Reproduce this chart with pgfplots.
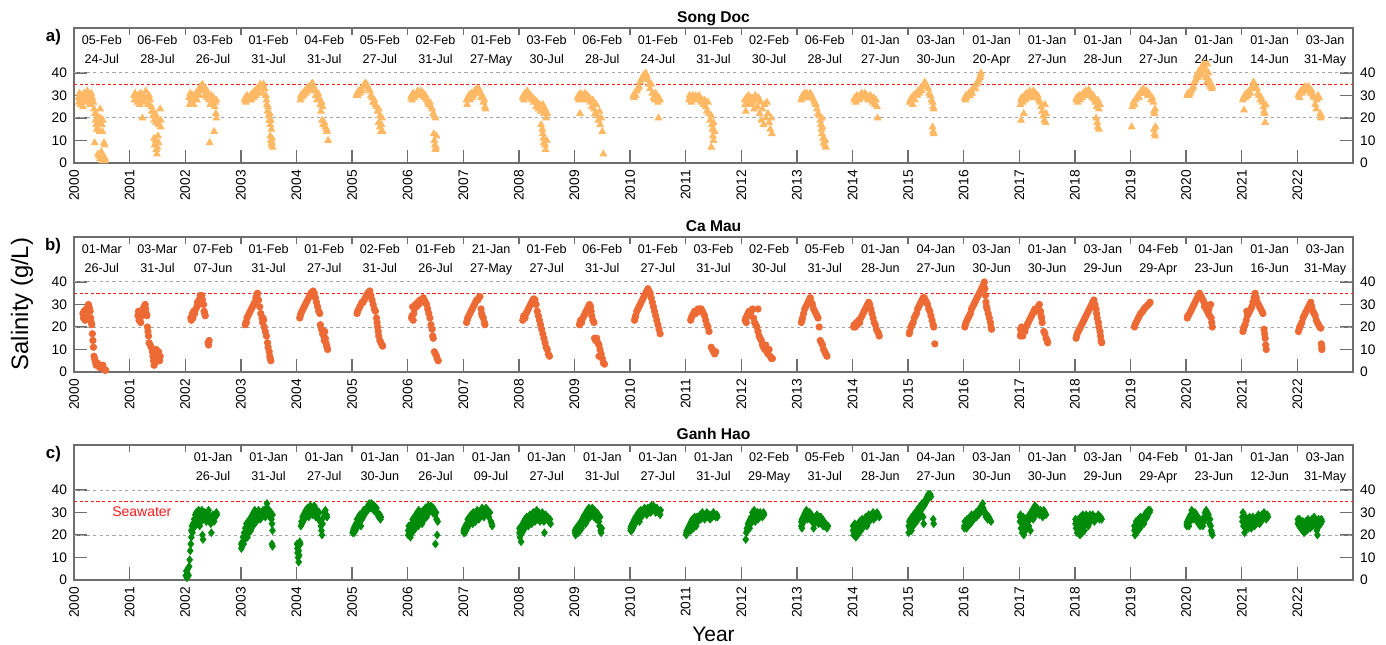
\documentclass[border=0pt]{standalone}
\usepackage{pgfplots}
\pgfplotsset{compat=1.18}
\usepackage{fontspec}
\setmainfont{Liberation Sans}

\definecolor{sdcol}{HTML}{FFB964}
\definecolor{cmcol}{HTML}{EE6A35}
\definecolor{ghcol}{HTML}{008C0A}
\definecolor{framecol}{HTML}{6E6E6E}
% reference-line colours, one set per panel
\definecolor{seaA}{HTML}{FF1A1A}\definecolor{seaB}{HTML}{FF1A1B}\definecolor{seaC}{HTML}{FF1B1A}
\definecolor{seaT}{HTML}{FF1B1B}
\definecolor{gAa}{HTML}{A6A6A6}\definecolor{gAb}{HTML}{A6A6A7}
\definecolor{gBa}{HTML}{A6A7A6}\definecolor{gBb}{HTML}{A7A6A6}
\definecolor{gCa}{HTML}{A6A7A7}\definecolor{gCb}{HTML}{A7A7A6}

\newcommand\tickfont{\fontsize{6.9}{8}\selectfont}
\newcommand\datefont{\fontsize{6.3}{8}\selectfont}

% two-line date label (first / last sampling day) per year, on fixed baselines
\newcommand\dl[3]{\node[datelbl] at (axis cs:#1.5,52.7) {#2};\node[datelbl] at (axis cs:#1.5,44.1) {#3};}

\pgfplotsset{
  panel/.style={
    scale only axis, width=639.5pt, height=67.5pt,
    xmin=2000, xmax=2023, ymin=0, ymax=60,
    xtick={2000,2001,...,2022}, ytick={0,10,20,30,40},
    xtick pos=lower, ytick pos=both, tick align=inside,
    major tick length=6.5pt,
    tick style={draw=framecol, line width=0.7pt},
    axis line style={draw=framecol, line width=0.7pt},
    xticklabel style={rotate=90, anchor=east, font=\tickfont},
    yticklabel style={font=\tickfont},
    /pgf/number format/1000 sep={},
    /pgf/number format/assume math mode=true,
    clip=false,
  },
}
\tikzset{
  datelbl/.style={font=\datefont, anchor=base, inner sep=0pt},
  toptick/.style={draw=framecol, line width=0.7pt},
  ttl/.style={font=\fontsize{7.8}{9}\selectfont\bfseries, anchor=base},
  plab/.style={font=\fontsize{8.4}{10}\selectfont\bfseries, anchor=base east},
}

% shared decorations: reference lines (20, 40 and seawater 35 g/L), top year ticks, right-hand tick labels
\newcommand\decor[1]{%
  \addplot[forget plot, color=g#1a, line width=0.5pt, dash pattern=on 1.6pt off 1.6pt] coordinates {(2000,20) (2023,20)};
  \addplot[forget plot, color=g#1b, line width=0.5pt, dash pattern=on 1.6pt off 1.6pt] coordinates {(2000,40) (2023,40)};
  \addplot[forget plot, color=sea#1, line width=0.6pt, dash pattern=on 1.6pt off 1.2pt] coordinates {(2000,35) (2023,35)};
  \pgfplotsinvokeforeach{2001,2002,2003,2004,2005,2006,2007,2008,2009,2010,2011,2012,2013,2014,2015,2016,2017,2018,2019,2020,2021,2022}{\draw[toptick] (axis cs:##1,60) -- ([yshift=-3.5pt]axis cs:##1,60);}
  \pgfplotsinvokeforeach{0,10,20,30,40}{\node[anchor=west, font=\tickfont] at (axis cs:2023,##1) {##1};}
}

\begin{document}
\begin{tikzpicture}
\useasboundingbox (0pt,0pt) rectangle (693pt,322pt);

% ---------------- a) Song Doc ----------------
\begin{axis}[panel, at={(37pt,240.5pt)}, anchor=south west]
\decor{A}
\addplot[only marks, mark=triangle*, mark size=1.9pt, color=sdcol] coordinates {
(2000.08,29)(2000.09,27)(2000.10,31)(2000.11,28)(2000.12,26)(2000.13,30)(2000.15,28)(2000.16,25)(2000.18,31)(2000.20,29)(2000.22,27)(2000.24,32)(2000.26,30)(2000.27,28)(2000.29,26)(2000.31,31)(2000.33,29)(2000.35,27)(2000.36,24)(2000.38,22)(2000.39,19)(2000.40,17)(2000.42,21)(2000.43,15)(2000.44,18)(2000.46,14)(2000.37,9)(2000.47,24)(2000.48,20)(2000.50,17)(2000.51,14)(2000.52,19)(2000.54,9)(2000.55,8)(2000.43,4)(2000.45,3)(2000.47,2)(2000.49,5)(2000.51,1)(2000.53,3)(2000.55,1)(2000.56,2)(2000.41,15)
(2001.08,30)(2001.09,28)(2001.10,31)(2001.12,29)(2001.14,27)(2001.16,30)(2001.18,26)(2001.20,31)(2001.22,28)(2001.23,20)(2001.25,30)(2001.27,27)(2001.29,32)(2001.31,29)(2001.33,26)(2001.35,30)(2001.37,28)(2001.39,25)(2001.40,23)(2001.42,21)(2001.44,19)(2001.46,22)(2001.48,18)(2001.50,20)(2001.52,17)(2001.55,24)(2001.56,19)(2001.56,16)(2001.44,11)(2001.45,8)(2001.47,10)(2001.48,6)(2001.49,4)(2001.51,12)(2001.52,9)(2001.50,7)
(2002.07,29)(2002.08,26)(2002.09,31)(2002.11,28)(2002.13,30)(2002.15,26)(2002.17,29)(2002.19,31)(2002.21,28)(2002.23,32)(2002.25,30)(2002.27,34)(2002.29,33)(2002.31,35)(2002.33,32)(2002.35,30)(2002.37,33)(2002.39,29)(2002.41,31)(2002.43,28)(2002.45,26)(2002.47,30)(2002.49,27)(2002.51,29)(2002.53,25)(2002.55,22)(2002.56,28)(2002.56,20)(2002.52,14)(2002.44,9)(2002.54,27)
(2003.07,28)(2003.08,29)(2003.09,27)(2003.11,30)(2003.13,28)(2003.15,29)(2003.17,30)(2003.19,28)(2003.21,31)(2003.23,29)(2003.25,32)(2003.27,30)(2003.29,33)(2003.31,31)(2003.33,34)(2003.35,35)(2003.37,33)(2003.39,31)(2003.41,35)(2003.43,33)(2003.45,30)(2003.46,28)(2003.47,26)(2003.48,23)(2003.49,25)(2003.50,21)(2003.51,19)(2003.52,22)(2003.53,17)(2003.54,19)(2003.55,15)(2003.53,12)(2003.54,10)(2003.55,8)(2003.56,9)(2003.57,7)(2003.56,11)
(2004.07,28)(2004.08,30)(2004.09,29)(2004.11,31)(2004.13,30)(2004.15,32)(2004.17,31)(2004.19,33)(2004.21,32)(2004.23,34)(2004.25,33)(2004.27,35)(2004.29,35.5)(2004.31,34)(2004.33,32)(2004.35,30)(2004.37,28)(2004.39,31)(2004.41,29)(2004.43,26)(2004.44,23)(2004.45,27)(2004.47,25)(2004.46,19)(2004.48,17)(2004.50,18)(2004.52,16)(2004.54,15)(2004.55,14)(2004.57,10)
(2005.08,30)(2005.09,31)(2005.10,30)(2005.12,32)(2005.14,31)(2005.16,33)(2005.18,32)(2005.20,34)(2005.22,35)(2005.24,35.5)(2005.26,35)(2005.28,34)(2005.30,33)(2005.32,32)(2005.34,30)(2005.36,29)(2005.38,27)(2005.40,28)(2005.42,26)(2005.44,25)(2005.46,23)(2005.48,24)(2005.50,21)(2005.48,18)(2005.50,16)(2005.52,14)(2005.53,17)(2005.54,20)(2005.55,14)
(2006.06,29)(2006.07,30)(2006.08,28)(2006.10,31)(2006.12,29)(2006.14,30)(2006.16,31)(2006.18,32)(2006.20,30)(2006.22,31)(2006.24,32)(2006.26,30)(2006.28,31)(2006.30,29)(2006.32,30)(2006.34,28)(2006.36,27)(2006.38,26)(2006.40,27)(2006.42,25)(2006.44,24)(2006.46,22)(2006.48,21)(2006.50,20)(2006.47,13)(2006.48,10)(2006.49,8)(2006.50,6)(2006.51,7)(2006.52,12)
(2007.06,28)(2007.07,26)(2007.08,29)(2007.10,30)(2007.12,28)(2007.14,31)(2007.16,29)(2007.18,30)(2007.20,32)(2007.22,31)(2007.24,33)(2007.26,32)(2007.28,33)(2007.30,31)(2007.32,29)(2007.34,30)(2007.36,27)(2007.38,28)(2007.39,25)(2007.40,24)
(2008.07,29)(2008.08,30)(2008.09,28)(2008.11,31)(2008.13,30)(2008.15,32)(2008.17,31)(2008.19,29)(2008.21,30)(2008.23,28)(2008.25,29)(2008.27,27)(2008.29,28)(2008.31,25)(2008.33,27)(2008.35,24)(2008.37,26)(2008.39,23)(2008.41,25)(2008.43,26)(2008.45,22)(2008.47,24)(2008.49,20)(2008.51,22)(2008.40,17)(2008.42,15)(2008.43,13)(2008.44,11)(2008.45,9)(2008.47,8)(2008.48,6)(2008.50,10)
(2009.06,29)(2009.07,30)(2009.08,28)(2009.10,22)(2009.11,31)(2009.13,29)(2009.15,30)(2009.17,28)(2009.19,31)(2009.21,29)(2009.23,30)(2009.25,28)(2009.27,29)(2009.29,27)(2009.31,25)(2009.33,28)(2009.35,24)(2009.37,22)(2009.39,26)(2009.41,21)(2009.43,19)(2009.45,23)(2009.46,17)(2009.48,20)(2009.50,14)(2009.52,4)
(2010.06,30)(2010.07,29)(2010.08,31)(2010.10,30)(2010.12,32)(2010.14,33)(2010.16,34)(2010.18,36)(2010.20,37)(2010.22,38)(2010.24,39)(2010.26,38)(2010.28,40)(2010.30,39)(2010.32,37)(2010.34,35)(2010.36,33)(2010.38,35)(2010.40,31)(2010.42,29)(2010.44,28)(2010.46,31)(2010.48,29)(2010.50,27)(2010.52,29)(2010.54,28)(2010.51,20)
(2011.06,28)(2011.07,30)(2011.08,29)(2011.10,27)(2011.12,30)(2011.14,29)(2011.16,28)(2011.18,30)(2011.20,29)(2011.22,28)(2011.24,30)(2011.26,29)(2011.28,27)(2011.30,28)(2011.32,26)(2011.34,28)(2011.36,25)(2011.38,23)(2011.40,27)(2011.42,22)(2011.44,19)(2011.46,21)(2011.47,17)(2011.48,15)(2011.50,18)(2011.52,14)(2011.50,10)(2011.46,7)(2011.49,12)
(2012.06,28)(2012.07,26)(2012.08,23)(2012.09,29)(2012.11,27)(2012.13,30)(2012.15,28)(2012.17,26)(2012.19,29)(2012.21,27)(2012.23,24)(2012.25,30)(2012.27,28)(2012.29,25)(2012.31,29)(2012.33,22)(2012.35,27)(2012.36,19)(2012.38,24)(2012.40,17)(2012.42,26)(2012.44,20)(2012.46,27)(2012.48,22)(2012.50,18)(2012.52,15)(2012.54,20)(2012.55,13)
(2013.08,28)(2013.09,29)(2013.10,30)(2013.12,29)(2013.14,31)(2013.16,30)(2013.18,31)(2013.20,30)(2013.22,29)(2013.24,31)(2013.26,30)(2013.28,29)(2013.30,28)(2013.32,27)(2013.34,26)(2013.36,24)(2013.38,22)(2013.40,21)(2013.42,19)(2013.43,17)(2013.44,15)(2013.45,13)(2013.46,16)(2013.47,11)(2013.48,9)(2013.50,8)(2013.51,10)(2013.52,7)(2013.45,20)
(2014.03,28)(2014.04,29)(2014.06,27)(2014.08,30)(2014.10,29)(2014.12,28)(2014.14,30)(2014.16,31)(2014.18,29)(2014.20,30)(2014.22,31)(2014.24,29)(2014.26,30)(2014.28,28)(2014.30,29)(2014.32,30)(2014.34,28)(2014.36,27)(2014.38,29)(2014.40,26)(2014.42,28)(2014.44,25)(2014.45,20)
(2015.03,27)(2015.04,28)(2015.06,29)(2015.08,26)(2015.10,30)(2015.12,28)(2015.14,31)(2015.16,30)(2015.18,32)(2015.20,31)(2015.22,33)(2015.24,32)(2015.26,34)(2015.28,35)(2015.30,36)(2015.32,35)(2015.34,34)(2015.36,33)(2015.38,31)(2015.40,30)(2015.42,28)(2015.44,27)(2015.45,25)(2015.46,24)(2015.44,16)(2015.45,14)(2015.46,13)
(2016.02,29)(2016.03,28)(2016.04,30)(2016.05,29)(2016.07,30)(2016.09,31)(2016.11,30)(2016.13,32)(2016.15,31)(2016.17,33)(2016.19,34)(2016.21,33)(2016.23,35)(2016.25,36)(2016.27,37)(2016.29,38)(2016.30,39)(2016.31,40)
(2017.02,26)(2017.03,28)(2017.03,19)(2017.04,29)(2017.06,27)(2017.08,22)(2017.09,30)(2017.11,28)(2017.13,31)(2017.15,29)(2017.17,30)(2017.19,32)(2017.21,31)(2017.23,29)(2017.25,32)(2017.27,30)(2017.29,31)(2017.31,29)(2017.33,30)(2017.35,28)(2017.37,27)(2017.39,25)(2017.41,23)(2017.43,21)(2017.45,19)(2017.47,18)(2017.48,22)(2017.46,26)
(2018.02,28)(2018.03,29)(2018.05,27)(2018.07,30)(2018.09,28)(2018.11,30)(2018.13,29)(2018.15,31)(2018.17,30)(2018.19,32)(2018.21,31)(2018.23,32)(2018.25,32.5)(2018.27,31)(2018.29,30)(2018.31,29)(2018.33,30)(2018.35,28)(2018.37,27)(2018.39,25)(2018.41,28)(2018.43,24)(2018.38,20)(2018.40,18)(2018.41,16)(2018.43,15)(2018.45,26)
(2019.02,16)(2019.03,25)(2019.05,27)(2019.07,26)(2019.09,28)(2019.11,29)(2019.13,30)(2019.15,29)(2019.17,31)(2019.19,32)(2019.21,31)(2019.23,33)(2019.25,32)(2019.27,31)(2019.29,32)(2019.31,30)(2019.33,31)(2019.35,30)(2019.37,28)(2019.39,29)(2019.41,27)(2019.42,23)(2019.43,22)(2019.44,24)(2019.42,15)(2019.43,13)(2019.44,12)(2019.45,16)
(2020.02,30)(2020.03,31)(2020.05,30)(2020.07,31)(2020.09,32)(2020.11,33)(2020.13,34)(2020.15,36)(2020.17,37)(2020.19,39)(2020.21,38)(2020.23,41)(2020.25,40)(2020.27,42)(2020.29,39)(2020.31,44)(2020.33,43)(2020.35,41)(2020.36,38)(2020.37,36)(2020.38,44)(2020.40,40)(2020.41,37)(2020.42,35)(2020.44,34)(2020.46,33)(2020.47,34)
(2021.02,28)(2021.03,29)(2021.04,23.5)(2021.05,30)(2021.07,29)(2021.09,31)(2021.11,30)(2021.13,32)(2021.15,31)(2021.17,33)(2021.19,34)(2021.21,36)(2021.23,35)(2021.25,34)(2021.27,33)(2021.29,31)(2021.31,30)(2021.33,28)(2021.35,29)(2021.37,27)(2021.39,25)(2021.40,23)(2021.41,22)(2021.42,18)(2021.43,26)
(2022.02,30)(2022.03,31)(2022.04,29)(2022.06,32)(2022.08,31)(2022.10,33)(2022.12,32)(2022.14,34)(2022.16,33)(2022.18,32)(2022.20,34)(2022.22,33)(2022.24,31)(2022.26,32)(2022.28,30)(2022.30,29)(2022.32,26)(2022.34,24)(2022.35,28)(2022.37,30)(2022.39,29)(2022.41,22)(2022.42,20)(2022.43,21)
};
\node[ttl, yshift=2.8pt] at (rel axis cs:0.5,1) {Song Doc};
\node[plab, xshift=-3pt, yshift=-7pt] at (rel axis cs:0,1) {a)};
\dl{2000}{05-Feb}{24-Jul}\dl{2001}{06-Feb}{28-Jul}\dl{2002}{03-Feb}{26-Jul}
\dl{2003}{01-Feb}{31-Jul}\dl{2004}{04-Feb}{31-Jul}\dl{2005}{05-Feb}{27-Jul}
\dl{2006}{02-Feb}{31-Jul}\dl{2007}{01-Feb}{27-May}\dl{2008}{03-Feb}{30-Jul}
\dl{2009}{06-Feb}{28-Jul}\dl{2010}{01-Feb}{24-Jul}\dl{2011}{01-Feb}{31-Jul}
\dl{2012}{02-Feb}{30-Jul}\dl{2013}{06-Feb}{28-Jul}\dl{2014}{01-Jan}{27-Jun}
\dl{2015}{03-Jan}{30-Jun}\dl{2016}{01-Jan}{20-Apr}\dl{2017}{01-Jan}{27-Jun}
\dl{2018}{01-Jan}{28-Jun}\dl{2019}{04-Jan}{27-Jun}\dl{2020}{01-Jan}{24-Jun}
\dl{2021}{01-Jan}{14-Jun}\dl{2022}{03-Jan}{31-May}
\end{axis}

% ---------------- b) Ca Mau ----------------
\begin{axis}[panel, at={(37pt,136pt)}, anchor=south west]
\decor{B}
\addplot[only marks, mark=*, mark size=1.6pt, color=cmcol] coordinates {
(2000.16,26)(2000.17,24)(2000.18,27)(2000.19,25)(2000.20,23)(2000.21,26)(2000.22,28)(2000.23,25)(2000.24,27)(2000.25,29)(2000.26,30)(2000.27,29)(2000.28,28)(2000.29,27)(2000.30,24)(2000.31,22)(2000.32,21)(2000.33,17)(2000.34,14)(2000.35,11)(2000.36,7)(2000.37,6)(2000.38,5)(2000.39,4)(2000.40,3)(2000.42,4)(2000.44,3)(2000.46,2)(2000.48,3)(2000.50,2)(2000.52,3)(2000.53,1.5)(2000.55,1)(2000.56,0.8)(2000.57,0.8)
(2001.15,25)(2001.16,27)(2001.17,23)(2001.18,26)(2001.19,24)(2001.20,22)(2001.21,25)(2001.22,27)(2001.24,28)(2001.26,29)(2001.28,30)(2001.29,28)(2001.30,26)(2001.31,25)(2001.32,20)(2001.33,18)(2001.34,16)(2001.35,13)(2001.37,12)(2001.39,11)(2001.41,9)(2001.42,7)(2001.43,5)(2001.44,3)(2001.46,4)(2001.47,6)(2001.48,10)(2001.50,8)(2001.52,9)(2001.54,5)(2001.55,7)
(2002.10,24)(2002.11,23)(2002.12,25)(2002.13,26)(2002.14,24)(2002.15,27)(2002.17,26)(2002.19,28)(2002.21,29)(2002.22,31)(2002.24,30)(2002.25,32)(2002.27,34)(2002.28,33)(2002.30,34)(2002.31,32)(2002.33,30)(2002.34,27)(2002.35,26)(2002.36,25)(2002.41,13)(2002.42,12)(2002.43,14)
(2003.08,21)(2003.09,22)(2003.10,22)(2003.11,24)(2003.13,25)(2003.15,26)(2003.17,27)(2003.19,28)(2003.21,29)(2003.23,30)(2003.25,31)(2003.27,33)(2003.29,34)(2003.30,35)(2003.32,32)(2003.34,29)(2003.36,26)(2003.38,24)(2003.39,22)(2003.41,23)(2003.42,20)(2003.44,18)(2003.46,16)(2003.48,13)(2003.49,11)(2003.51,9)(2003.52,7)(2003.53,6)(2003.54,5)(2003.40,24)
(2004.06,24)(2004.07,25)(2004.08,26)(2004.10,27)(2004.12,28)(2004.14,29)(2004.16,30)(2004.18,31)(2004.20,32)(2004.22,33)(2004.24,34)(2004.26,35)(2004.28,35.5)(2004.30,36)(2004.32,35)(2004.34,33)(2004.36,31)(2004.38,29)(2004.40,27)(2004.42,26)(2004.43,21)(2004.45,19)(2004.47,17)(2004.49,16)(2004.50,14)(2004.51,18)(2004.52,15)(2004.53,13)(2004.54,12)(2004.55,11)(2004.56,10)
(2005.09,26)(2005.10,27)(2005.12,28)(2005.14,29)(2005.16,30)(2005.18,31)(2005.20,31)(2005.22,32)(2005.24,33)(2005.26,34)(2005.28,35)(2005.30,35.5)(2005.32,36)(2005.34,34)(2005.36,32)(2005.38,30)(2005.40,28)(2005.42,27)(2005.44,24)(2005.45,22)(2005.46,20)(2005.47,18)(2005.48,16)(2005.50,14)(2005.52,13)(2005.54,12)(2005.55,11.5)
(2006.07,24)(2006.08,25)(2006.09,29)(2006.10,23)(2006.11,26)(2006.12,28)(2006.14,30)(2006.16,29)(2006.18,31)(2006.20,30)(2006.22,32)(2006.24,31)(2006.26,32)(2006.28,33)(2006.30,32)(2006.32,31)(2006.34,30)(2006.36,28)(2006.38,26)(2006.40,24)(2006.42,21)(2006.44,19)(2006.45,16)(2006.46,15)(2006.48,9)(2006.50,8)(2006.52,7)(2006.53,6)(2006.55,5)
(2007.06,22)(2007.07,23)(2007.08,24)(2007.10,25)(2007.12,26)(2007.14,27)(2007.16,28)(2007.18,29)(2007.20,30)(2007.22,31)(2007.24,32)(2007.26,32)(2007.28,33)(2007.30,33.5)(2007.32,28)(2007.33,26)(2007.34,25)(2007.36,24)(2007.38,22)(2007.39,21)
(2008.07,23)(2008.08,24)(2008.09,25)(2008.11,24)(2008.13,26)(2008.15,27)(2008.17,28)(2008.19,29)(2008.21,30)(2008.23,31)(2008.25,32)(2008.27,32.5)(2008.29,32)(2008.31,30)(2008.33,27)(2008.35,25)(2008.37,23)(2008.39,21)(2008.41,19)(2008.43,17)(2008.45,15)(2008.47,13)(2008.49,11)(2008.51,10)(2008.53,8)(2008.55,7)
(2009.09,21)(2009.10,22)(2009.11,23)(2009.13,22)(2009.15,24)(2009.17,25)(2009.19,26)(2009.21,27)(2009.23,28)(2009.25,29)(2009.27,30)(2009.29,29)(2009.30,27)(2009.31,25)(2009.33,23)(2009.35,22)(2009.36,15)(2009.38,14)(2009.40,15)(2009.42,13)(2009.44,12)(2009.46,10)(2009.48,8)(2009.44,7)(2009.50,6)(2009.52,4)(2009.54,3.5)
(2010.08,23)(2010.09,24)(2010.10,25)(2010.12,27)(2010.14,28)(2010.16,29)(2010.18,30)(2010.20,31)(2010.22,32)(2010.24,33)(2010.26,34)(2010.28,35)(2010.30,36)(2010.32,37)(2010.34,36)(2010.36,35)(2010.38,33)(2010.40,31)(2010.42,29)(2010.44,27)(2010.46,25)(2010.48,23)(2010.50,21)(2010.52,19)(2010.54,17)
(2011.09,23)(2011.10,24)(2011.12,25)(2011.14,26)(2011.16,27)(2011.18,26)(2011.20,27)(2011.22,28)(2011.24,27)(2011.26,28)(2011.28,28)(2011.30,27)(2011.32,26)(2011.34,25)(2011.36,23)(2011.38,21)(2011.40,20)(2011.42,18)(2011.46,11)(2011.48,10)(2011.50,9)(2011.52,8)(2011.54,9)
(2012.07,23)(2012.08,24)(2012.09,22)(2012.10,25)(2012.12,26)(2012.14,27)(2012.16,25)(2012.18,27)(2012.20,28)(2012.22,24)(2012.24,22)(2012.26,21)(2012.28,20)(2012.30,28)(2012.30,18)(2012.32,16)(2012.34,15)(2012.36,14)(2012.38,12)(2012.40,11)(2012.42,10)(2012.44,12)(2012.46,9)(2012.48,8)(2012.50,10)(2012.52,7)(2012.54,6)(2012.56,6)
(2013.08,22)(2013.09,23)(2013.10,24)(2013.12,26)(2013.14,28)(2013.16,29)(2013.18,30)(2013.20,31)(2013.22,32)(2013.24,33)(2013.26,31)(2013.28,30)(2013.30,28)(2013.32,27)(2013.34,26)(2013.36,25)(2013.38,24)(2013.40,20)(2013.42,14)(2013.44,13)(2013.46,12)(2013.48,10)(2013.50,9)(2013.52,8)(2013.54,7)
(2014.02,20)(2014.03,21)(2014.05,20)(2014.07,22)(2014.09,21)(2014.11,23)(2014.13,22)(2014.15,24)(2014.17,25)(2014.19,26)(2014.21,27)(2014.23,28)(2014.25,29)(2014.27,30)(2014.29,31)(2014.31,30)(2014.33,28)(2014.35,26)(2014.37,24)(2014.39,22)(2014.41,21)(2014.43,19)(2014.45,18)(2014.47,17)(2014.48,16)
(2015.02,17)(2015.03,18)(2015.05,20)(2015.07,21)(2015.09,22)(2015.11,24)(2015.13,25)(2015.15,26)(2015.17,28)(2015.19,29)(2015.21,30)(2015.23,31)(2015.25,32)(2015.27,33)(2015.29,33)(2015.31,32)(2015.33,31)(2015.35,30)(2015.37,28)(2015.39,27)(2015.41,25)(2015.43,23)(2015.45,21)(2015.46,20)(2015.48,12.5)
(2016.02,20)(2016.03,21)(2016.04,22)(2016.06,23)(2016.08,24)(2016.10,25)(2016.12,26)(2016.14,28)(2016.16,29)(2016.18,30)(2016.20,31)(2016.22,32)(2016.24,33)(2016.26,34)(2016.28,35)(2016.30,36)(2016.32,37)(2016.34,38)(2016.36,39)(2016.37,40)(2016.38,37)(2016.39,34)(2016.40,31)(2016.41,29)(2016.42,28)(2016.44,26)(2016.46,24)(2016.48,22)(2016.49,20)(2016.50,19)
(2017.02,16)(2017.02,19)(2017.03,17)(2017.04,20)(2017.05,18)(2017.06,16)(2017.08,19)(2017.10,18)(2017.12,20)(2017.14,21)(2017.16,22)(2017.18,23)(2017.20,24)(2017.22,25)(2017.24,26)(2017.26,27)(2017.28,28)(2017.30,27)(2017.32,28)(2017.34,29)(2017.36,30)(2017.38,27)(2017.39,25)(2017.40,24)(2017.41,22)(2017.44,18)(2017.46,17)(2017.48,15)(2017.50,14)(2017.51,13)
(2018.02,15)(2018.03,16)(2018.04,17)(2018.06,18)(2018.08,19)(2018.10,20)(2018.12,21)(2018.14,22)(2018.16,23)(2018.18,24)(2018.20,25)(2018.22,26)(2018.24,27)(2018.26,28)(2018.28,29)(2018.30,30)(2018.32,31)(2018.34,32)(2018.36,30)(2018.38,28)(2018.39,26)(2018.40,24)(2018.42,22)(2018.43,20)(2018.45,18)(2018.46,16)(2018.47,14)(2018.48,13)
(2019.07,20)(2019.08,21)(2019.10,22)(2019.12,23)(2019.14,24)(2019.16,25)(2019.18,26)(2019.20,26.5)(2019.22,27)(2019.24,28)(2019.26,28.5)(2019.28,29)(2019.30,29.5)(2019.32,30)(2019.34,30.5)(2019.35,31)
(2020.02,24)(2020.03,25)(2020.04,25)(2020.06,26)(2020.08,27)(2020.10,28)(2020.12,29)(2020.14,30)(2020.16,31)(2020.18,32)(2020.20,33)(2020.22,34)(2020.24,35)(2020.26,34)(2020.28,33)(2020.30,32)(2020.32,31)(2020.33,29)(2020.34,30)(2020.36,28)(2020.38,27)(2020.40,26)(2020.42,25)(2020.44,30)(2020.45,24)(2020.46,22)(2020.47,20)(2020.41,28)
(2021.02,18)(2021.03,19)(2021.04,20)(2021.06,21)(2021.08,23)(2021.09,27)(2021.10,25)(2021.12,26)(2021.14,27)(2021.16,28)(2021.18,29)(2021.20,31)(2021.22,33)(2021.24,35)(2021.26,33)(2021.28,31)(2021.30,30)(2021.32,29)(2021.34,28)(2021.36,27)(2021.38,26)(2021.40,19)(2021.41,17)(2021.42,15)(2021.43,12)(2021.44,10)
(2022.02,18)(2022.03,19)(2022.04,20)(2022.06,21)(2022.08,22)(2022.10,24)(2022.12,25)(2022.14,26)(2022.16,27)(2022.18,28)(2022.20,29)(2022.22,30)(2022.24,31)(2022.26,29)(2022.28,27)(2022.30,26)(2022.32,25)(2022.34,23)(2022.36,22)(2022.38,21)(2022.40,20)(2022.42,19.5)(2022.43,12.5)(2022.44,11)(2022.44,10)
};
\node[ttl, yshift=2.8pt] at (rel axis cs:0.5,1) {Ca Mau};
\node[plab, xshift=-3pt, yshift=-7pt] at (rel axis cs:0,1) {b)};
\dl{2000}{01-Mar}{26-Jul}\dl{2001}{03-Mar}{31-Jul}\dl{2002}{07-Feb}{07-Jun}
\dl{2003}{01-Feb}{31-Jul}\dl{2004}{01-Feb}{27-Jul}\dl{2005}{02-Feb}{31-Jul}
\dl{2006}{01-Feb}{26-Jul}\dl{2007}{21-Jan}{27-May}\dl{2008}{01-Feb}{27-Jul}
\dl{2009}{06-Feb}{31-Jul}\dl{2010}{01-Feb}{27-Jul}\dl{2011}{03-Feb}{31-Jul}
\dl{2012}{02-Feb}{30-Jul}\dl{2013}{05-Feb}{31-Jul}\dl{2014}{01-Jan}{28-Jun}
\dl{2015}{04-Jan}{27-Jun}\dl{2016}{03-Jan}{30-Jun}\dl{2017}{01-Jan}{30-Jun}
\dl{2018}{03-Jan}{29-Jun}\dl{2019}{04-Feb}{29-Apr}\dl{2020}{01-Jan}{23-Jun}
\dl{2021}{01-Jan}{16-Jun}\dl{2022}{03-Jan}{31-May}
\end{axis}

% ---------------- c) Ganh Hao ----------------
\begin{axis}[panel, at={(37pt,32pt)}, anchor=south west]
\decor{C}
\addplot[only marks, mark=diamond*, mark size=1.9pt, color=ghcol] coordinates {
(2002.01,2)(2002.02,4)(2002.03,1)(2002.04,3)(2002.05,5)(2002.06,2)(2002.07,6)(2002.08,9)(2002.09,13)(2002.10,16)(2002.11,19)(2002.11,22)(2002.12,24)(2002.13,21)(2002.14,25)(2002.15,23)(2002.16,27)(2002.17,24)(2002.18,29)(2002.19,26)(2002.20,30)(2002.21,27)(2002.22,25)(2002.23,29)(2002.24,31)(2002.25,27)(2002.26,24)(2002.27,30)(2002.28,28)(2002.29,26)(2002.30,31)(2002.31,20)(2002.32,18)(2002.33,29)(2002.34,27)(2002.35,30)(2002.36,28)(2002.38,26)(2002.40,30)(2002.42,31)(2002.44,28)(2002.46,25)(2002.47,21)(2002.48,27)(2002.50,29)(2002.52,26)(2002.54,28)(2002.56,30)(2002.57,29)
(2003.01,14)(2003.01,16)(2003.02,15)(2003.03,17)(2003.04,19)(2003.05,16)(2003.06,21)(2003.07,18)(2003.08,23)(2003.09,20)(2003.10,25)(2003.11,22)(2003.12,19)(2003.13,26)(2003.14,24)(2003.15,21)(2003.16,27)(2003.17,25)(2003.18,22)(2003.19,28)(2003.20,26)(2003.21,29)(2003.22,24)(2003.23,30)(2003.24,27)(2003.25,31)(2003.27,29)(2003.28,26)(2003.29,30)(2003.31,28)(2003.32,31)(2003.34,29)(2003.35,27)(2003.37,30)(2003.38,28)(2003.40,31)(2003.41,29)(2003.43,30)(2003.44,28)(2003.46,32)(2003.47,34)(2003.48,30)(2003.50,29)(2003.51,31)(2003.53,28)(2003.54,30)(2003.55,27)(2003.56,25)(2003.57,22)(2003.56,16)(2003.57,15)(2003.57,29)
(2004.01,16)(2004.02,14)(2004.02,12)(2004.03,10)(2004.03,15)(2004.04,8)(2004.04,13)(2004.05,11)(2004.06,17)(2004.07,16)(2004.08,24)(2004.09,26)(2004.10,25)(2004.11,28)(2004.12,26)(2004.13,29)(2004.14,27)(2004.15,30)(2004.16,28)(2004.17,31)(2004.18,29)(2004.20,32)(2004.21,30)(2004.22,28)(2004.24,31)(2004.25,33)(2004.26,30)(2004.28,32)(2004.29,29)(2004.31,31)(2004.32,33)(2004.34,30)(2004.35,28)(2004.37,31)(2004.38,29)(2004.40,27)(2004.41,30)(2004.43,26)(2004.44,24)(2004.45,22)(2004.46,20)(2004.47,25)(2004.49,28)(2004.50,30)(2004.52,31)(2004.54,29)(2004.55,28)
(2005.01,21)(2005.02,22)(2005.03,23)(2005.04,21)(2005.05,24)(2005.06,22)(2005.07,25)(2005.08,23)(2005.09,27)(2005.10,24)(2005.11,26)(2005.12,28)(2005.13,25)(2005.14,29)(2005.15,27)(2005.16,24)(2005.17,29)(2005.18,27)(2005.19,30)(2005.20,28)(2005.21,31)(2005.22,29)(2005.24,31)(2005.25,30)(2005.26,32)(2005.28,31)(2005.29,33)(2005.30,32)(2005.31,34)(2005.32,33)(2005.34,32)(2005.35,34)(2005.36,33)(2005.38,32)(2005.39,31)(2005.40,33)(2005.42,31)(2005.43,30)(2005.44,32)(2005.46,30)(2005.47,29)(2005.48,28)(2005.50,29)(2005.51,27)(2005.52,28)
(2006.01,22)(2006.01,20)(2006.02,24)(2006.03,21)(2006.04,23)(2006.05,19)(2006.06,22)(2006.07,25)(2006.08,21)(2006.09,27)(2006.10,24)(2006.11,22)(2006.12,28)(2006.13,25)(2006.14,23)(2006.15,29)(2006.16,26)(2006.17,30)(2006.18,27)(2006.19,24)(2006.20,31)(2006.21,28)(2006.22,26)(2006.24,30)(2006.25,28)(2006.26,25)(2006.28,31)(2006.29,29)(2006.30,27)(2006.32,32)(2006.33,30)(2006.34,28)(2006.36,31)(2006.37,33)(2006.38,30)(2006.40,32)(2006.41,31)(2006.42,33)(2006.44,32)(2006.45,30)(2006.46,32)(2006.48,31)(2006.49,29)(2006.50,16)(2006.51,30)(2006.52,27)(2006.53,20)(2006.54,26)
(2007.01,21)(2007.01,22)(2007.02,23)(2007.03,21)(2007.04,24)(2007.05,22)(2007.06,25)(2007.07,23)(2007.08,27)(2007.09,24)(2007.10,26)(2007.11,28)(2007.12,25)(2007.13,27)(2007.14,29)(2007.15,26)(2007.16,28)(2007.17,25)(2007.18,30)(2007.19,27)(2007.20,29)(2007.22,26)(2007.23,30)(2007.24,28)(2007.25,31)(2007.26,29)(2007.28,27)(2007.29,30)(2007.30,28)(2007.32,31)(2007.33,29)(2007.34,32)(2007.36,30)(2007.37,28)(2007.38,31)(2007.40,29)(2007.41,32)(2007.42,30)(2007.44,31)(2007.45,29)(2007.46,28)(2007.48,30)(2007.50,26)(2007.51,25)(2007.52,24)
(2008.01,21)(2008.01,23)(2008.02,19)(2008.03,22)(2008.04,17)(2008.05,24)(2008.06,21)(2008.07,25)(2008.08,22)(2008.09,26)(2008.10,23)(2008.11,27)(2008.12,24)(2008.13,26)(2008.14,28)(2008.15,25)(2008.16,27)(2008.17,24)(2008.18,28)(2008.19,26)(2008.20,29)(2008.22,27)(2008.23,25)(2008.24,29)(2008.25,27)(2008.26,30)(2008.28,28)(2008.29,26)(2008.30,29)(2008.32,31)(2008.33,28)(2008.34,27)(2008.36,30)(2008.37,28)(2008.38,26)(2008.40,29)(2008.41,27)(2008.42,30)(2008.44,28)(2008.45,26)(2008.46,21)(2008.48,29)(2008.50,27)(2008.52,28)(2008.54,26)(2008.56,27)(2008.57,25)
(2009.01,21)(2009.01,22)(2009.02,20)(2009.03,23)(2009.04,21)(2009.05,22)(2009.06,24)(2009.07,21)(2009.08,23)(2009.09,25)(2009.10,22)(2009.11,24)(2009.12,26)(2009.13,23)(2009.14,27)(2009.15,25)(2009.16,28)(2009.17,26)(2009.18,29)(2009.19,27)(2009.20,25)(2009.21,30)(2009.22,28)(2009.23,31)(2009.24,29)(2009.25,27)(2009.26,32)(2009.27,30)(2009.28,28)(2009.30,31)(2009.31,29)(2009.32,32)(2009.34,30)(2009.35,28)(2009.36,31)(2009.38,29)(2009.39,27)(2009.40,30)(2009.42,28)(2009.43,29)(2009.44,26)(2009.45,24)(2009.46,28)(2009.47,22)(2009.48,21)(2009.49,23)
(2010.01,22)(2010.01,23)(2010.02,24)(2010.03,22)(2010.04,25)(2010.05,23)(2010.06,26)(2010.07,24)(2010.08,27)(2010.09,25)(2010.10,28)(2010.11,26)(2010.12,27)(2010.13,29)(2010.14,27)(2010.15,30)(2010.16,28)(2010.17,26)(2010.18,29)(2010.19,31)(2010.20,28)(2010.22,30)(2010.23,29)(2010.24,31)(2010.25,30)(2010.26,32)(2010.28,30)(2010.29,31)(2010.30,29)(2010.32,32)(2010.33,30)(2010.34,31)(2010.36,32)(2010.37,30)(2010.38,33)(2010.40,31)(2010.41,32)(2010.42,33)(2010.44,31)(2010.45,32)(2010.46,30)(2010.48,32)(2010.50,31)(2010.52,30)(2010.54,29)(2010.55,31)
(2011.01,21)(2011.01,20)(2011.02,22)(2011.03,21)(2011.04,23)(2011.05,22)(2011.06,24)(2011.07,23)(2011.08,25)(2011.09,22)(2011.10,26)(2011.11,24)(2011.12,27)(2011.13,25)(2011.14,23)(2011.15,26)(2011.16,28)(2011.17,25)(2011.18,27)(2011.19,24)(2011.20,28)(2011.22,26)(2011.23,28)(2011.24,27)(2011.26,29)(2011.27,27)(2011.28,28)(2011.30,30)(2011.31,28)(2011.32,29)(2011.34,27)(2011.35,29)(2011.36,28)(2011.38,30)(2011.40,28)(2011.42,29)(2011.44,27)(2011.46,29)(2011.48,28)(2011.50,30)(2011.52,29)(2011.54,28)(2011.56,29)(2011.57,28)
(2012.08,18)(2012.09,21)(2012.10,23)(2012.11,22)(2012.12,25)(2012.13,24)(2012.14,26)(2012.15,23)(2012.16,27)(2012.17,25)(2012.18,28)(2012.19,26)(2012.20,30)(2012.21,27)(2012.22,29)(2012.23,31)(2012.24,28)(2012.25,26)(2012.26,30)(2012.28,28)(2012.29,30)(2012.30,27)(2012.32,29)(2012.33,28)(2012.34,30)(2012.36,29)(2012.38,28)(2012.40,30)(2012.41,29)
(2013.08,24)(2013.08,26)(2013.09,23)(2013.09,27)(2013.10,25)(2013.11,28)(2013.12,26)(2013.13,29)(2013.14,27)(2013.15,30)(2013.16,28)(2013.17,31)(2013.18,29)(2013.19,27)(2013.20,30)(2013.22,28)(2013.23,30)(2013.24,27)(2013.26,29)(2013.27,26)(2013.28,28)(2013.30,23)(2013.31,27)(2013.32,25)(2013.34,28)(2013.35,26)(2013.36,29)(2013.38,27)(2013.39,25)(2013.40,28)(2013.42,26)(2013.43,28)(2013.44,25)(2013.46,27)(2013.47,24)(2013.48,26)(2013.50,24)(2013.52,25)(2013.54,23)(2013.56,24)
(2014.01,22)(2014.01,24)(2014.02,20)(2014.03,23)(2014.04,25)(2014.05,21)(2014.06,19)(2014.07,24)(2014.08,22)(2014.09,20)(2014.10,25)(2014.11,23)(2014.12,21)(2014.13,26)(2014.14,24)(2014.15,22)(2014.16,25)(2014.17,27)(2014.18,23)(2014.19,26)(2014.20,24)(2014.22,27)(2014.23,25)(2014.24,28)(2014.25,26)(2014.26,24)(2014.28,27)(2014.29,29)(2014.30,26)(2014.32,28)(2014.33,27)(2014.34,29)(2014.36,28)(2014.37,30)(2014.38,27)(2014.40,29)(2014.42,28)(2014.44,30)(2014.46,29)(2014.48,28)
(2015.01,21)(2015.01,24)(2015.02,26)(2015.03,23)(2015.04,27)(2015.05,25)(2015.06,22)(2015.07,28)(2015.08,26)(2015.09,24)(2015.10,29)(2015.11,27)(2015.12,25)(2015.13,30)(2015.14,28)(2015.15,26)(2015.16,31)(2015.17,29)(2015.18,27)(2015.19,32)(2015.20,30)(2015.21,28)(2015.22,33)(2015.23,31)(2015.24,29)(2015.25,34)(2015.26,32)(2015.27,28)(2015.28,25)(2015.29,33)(2015.30,35)(2015.31,34)(2015.32,36)(2015.33,35)(2015.34,37)(2015.35,36)(2015.36,38)(2015.37,37)(2015.38,38)(2015.39,37)(2015.40,38)(2015.41,37)(2015.45,27)(2015.46,25)
(2016.01,24)(2016.01,23)(2016.02,26)(2016.03,24)(2016.04,25)(2016.05,23)(2016.06,27)(2016.07,25)(2016.08,24)(2016.09,27)(2016.10,26)(2016.11,28)(2016.12,25)(2016.13,27)(2016.14,29)(2016.15,26)(2016.16,28)(2016.18,27)(2016.19,29)(2016.20,28)(2016.22,30)(2016.23,28)(2016.24,29)(2016.26,31)(2016.27,29)(2016.28,30)(2016.30,32)(2016.31,31)(2016.32,33)(2016.34,34)(2016.35,32)(2016.36,31)(2016.38,30)(2016.39,29)(2016.40,28)(2016.42,29)(2016.43,27)(2016.45,28)(2016.47,27)(2016.49,26)
(2017.01,28)(2017.01,26)(2017.02,29)(2017.03,23)(2017.04,27)(2017.05,21)(2017.06,25)(2017.07,28)(2017.08,20)(2017.09,24)(2017.10,26)(2017.11,22)(2017.12,27)(2017.13,25)(2017.14,23)(2017.15,28)(2017.16,26)(2017.17,24)(2017.18,29)(2017.19,27)(2017.20,22)(2017.21,30)(2017.22,28)(2017.23,31)(2017.24,29)(2017.25,27)(2017.26,32)(2017.27,30)(2017.28,33)(2017.29,31)(2017.30,29)(2017.32,32)(2017.33,30)(2017.34,31)(2017.36,29)(2017.38,31)(2017.40,30)(2017.42,28)(2017.44,31)(2017.46,30)(2017.48,29)
(2018.01,27)(2018.01,25)(2018.02,23)(2018.03,26)(2018.04,21)(2018.05,24)(2018.06,27)(2018.07,22)(2018.08,25)(2018.09,20)(2018.10,28)(2018.11,23)(2018.12,26)(2018.13,21)(2018.14,29)(2018.15,24)(2018.16,27)(2018.17,22)(2018.18,28)(2018.19,25)(2018.20,29)(2018.22,26)(2018.23,28)(2018.24,24)(2018.26,27)(2018.27,29)(2018.28,26)(2018.30,28)(2018.31,27)(2018.32,29)(2018.34,28)(2018.35,26)(2018.36,28)(2018.38,27)(2018.40,28)(2018.42,29)(2018.44,27)(2018.46,28)(2018.48,27)
(2019.07,22)(2019.07,24)(2019.08,20)(2019.09,23)(2019.10,26)(2019.11,21)(2019.12,25)(2019.13,22)(2019.14,27)(2019.15,24)(2019.16,26)(2019.17,23)(2019.18,28)(2019.19,25)(2019.20,27)(2019.22,26)(2019.23,28)(2019.24,25)(2019.26,29)(2019.27,27)(2019.28,30)(2019.30,28)(2019.31,29)(2019.32,31)(2019.34,30)(2019.35,31)
(2020.01,25)(2020.01,24)(2020.02,26)(2020.03,25)(2020.04,27)(2020.05,24)(2020.06,28)(2020.07,26)(2020.08,29)(2020.09,27)(2020.10,31)(2020.11,28)(2020.12,30)(2020.13,27)(2020.14,29)(2020.15,28)(2020.16,30)(2020.17,27)(2020.18,29)(2020.20,26)(2020.21,28)(2020.22,25)(2020.24,27)(2020.25,24)(2020.26,26)(2020.28,25)(2020.29,27)(2020.30,24)(2020.32,26)(2020.33,28)(2020.34,30)(2020.35,29)(2020.36,31)(2020.37,28)(2020.38,30)(2020.40,29)(2020.41,27)(2020.42,25)(2020.43,27)(2020.44,24)(2020.45,22)(2020.46,21)(2020.47,20)
(2021.01,28)(2021.01,26)(2021.02,30)(2021.03,24)(2021.04,27)(2021.05,21)(2021.06,25)(2021.07,28)(2021.08,23)(2021.09,26)(2021.10,24)(2021.11,27)(2021.12,23)(2021.13,25)(2021.14,28)(2021.15,24)(2021.16,26)(2021.17,23)(2021.18,27)(2021.19,25)(2021.20,28)(2021.22,26)(2021.23,24)(2021.24,27)(2021.26,25)(2021.27,28)(2021.28,26)(2021.30,29)(2021.31,27)(2021.32,25)(2021.34,28)(2021.35,26)(2021.36,29)(2021.38,27)(2021.40,30)(2021.41,28)(2021.42,29)(2021.44,27)(2021.46,29)(2021.47,28)
(2022.01,27)(2022.01,25)(2022.02,26)(2022.03,24)(2022.04,27)(2022.05,25)(2022.06,23)(2022.07,26)(2022.08,24)(2022.09,22)(2022.10,26)(2022.11,24)(2022.12,21)(2022.13,25)(2022.14,23)(2022.15,26)(2022.16,24)(2022.17,22)(2022.18,25)(2022.19,27)(2022.20,24)(2022.22,26)(2022.23,23)(2022.24,25)(2022.26,27)(2022.27,24)(2022.28,26)(2022.30,28)(2022.31,25)(2022.32,27)(2022.33,24)(2022.34,26)(2022.35,22)(2022.36,20)(2022.37,25)(2022.38,27)(2022.39,24)(2022.40,26)(2022.42,25)(2022.43,27)(2022.44,26)
};
\node[ttl, yshift=2.8pt] at (rel axis cs:0.5,1) {Ganh Hao};
\node[plab, xshift=-3pt, yshift=-7pt] at (rel axis cs:0,1) {c)};
\dl{2002}{01-Jan}{26-Jul}\dl{2003}{01-Jan}{31-Jul}\dl{2004}{01-Jan}{27-Jul}
\dl{2005}{01-Jan}{30-Jun}\dl{2006}{01-Jan}{26-Jul}\dl{2007}{01-Jan}{09-Jul}
\dl{2008}{01-Jan}{27-Jul}\dl{2009}{01-Jan}{31-Jul}\dl{2010}{01-Jan}{27-Jul}
\dl{2011}{01-Jan}{31-Jul}\dl{2012}{02-Feb}{29-May}\dl{2013}{05-Feb}{31-Jul}
\dl{2014}{01-Jan}{28-Jun}\dl{2015}{04-Jan}{27-Jun}\dl{2016}{03-Jan}{30-Jun}
\dl{2017}{01-Jan}{30-Jun}\dl{2018}{03-Jan}{29-Jun}\dl{2019}{04-Feb}{29-Apr}
\dl{2020}{01-Jan}{23-Jun}\dl{2021}{01-Jan}{12-Jun}\dl{2022}{03-Jan}{31-May}
\node[font=\fontsize{7}{8}\selectfont] at (axis cs:2001.22,30.2) {\textcolor{seaT}{Seawater}};
\end{axis}

% shared axis titles
\node[rotate=90, font=\fontsize{11.9}{14}\selectfont] at (11pt,170pt) {Salinity (g/L)};
\node[anchor=base, font=\fontsize{10.5}{12}\selectfont] at (356.75pt,1.2pt) {Year};
\end{tikzpicture}
\end{document}
